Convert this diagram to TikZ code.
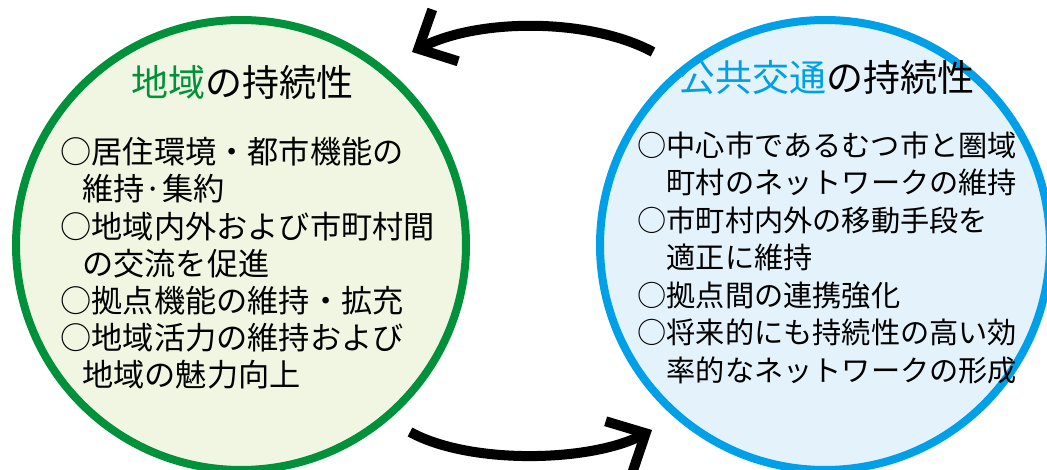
\documentclass[tikz,border=0pt]{standalone}
\usepackage{fontspec}
\setmainfont{Noto Sans CJK JP}
\usetikzlibrary{arrows.meta, positioning}

\definecolor{regiongreen}{RGB}{0,145,58}
\definecolor{regionfill}{RGB}{241,246,227}
\definecolor{transitblue}{RGB}{0,160,233}
\definecolor{transitfill}{RGB}{228,242,251}

\tikzset{
  ring/.style={line width=8pt},
  titletext/.style={font=\fontsize{37}{40}\selectfont},
  listtext/.style={anchor=west, align=left},
  regiontext/.style={listtext, font=\fontsize{31.2}{37.2}\selectfont},
  transittext/.style={listtext, font=\fontsize{29.2}{37.5}\selectfont},
  cyclearrow/.style={line width=10pt, -{Straight Barb[length=30pt, width=58pt, line cap=butt, line join=miter]}}
}

\begin{document}
\begin{tikzpicture}[x=1pt, y=-1pt]
\useasboundingbox (0,0) rectangle (1047,470);
\def\r{225}

\coordinate (L) at (241,245);
\coordinate (R) at (825,245);
\coordinate (topstart) at (653,52);
\coordinate (toptip) at (412,52);
\coordinate (botstart) at (410,432);
\coordinate (bottip) at (652,430);

\draw[ring, regiongreen, fill=regionfill] (L) circle (\r);
\draw[ring, transitblue, fill=transitfill] (R) circle (\r);

\node[titletext] (regiontitle) at (242,82) {\textcolor{regiongreen}{地域}の持続性};
\node[titletext] (transittitle) at (826,78) {\textcolor{transitblue}{公共交通}の持続性};

\node[regiontext] (regionlist) at (57,263.5) {%
○居住環境・都市機能の\\
\hspace*{0.7em}維持·集約\\
○地域内外および市町村間\\
\hspace*{0.7em}の交流を促進\\
○拠点機能の維持・拡充\\
○地域活力の維持および\\
\hspace*{0.7em}地域の魅力向上};

\node[transittext] (transitlist) at (634,257.5) {%
○中心市であるむつ市と圏域\\
\hspace*{1em}町村のネットワークの維持\\
○市町村内外の移動手段を\\
\hspace*{1em}適正に維持\\
○拠点間の連携強化\\
○将来的にも持続性の高い効\\
\hspace*{1em}率的なネットワークの形成};

\draw[cyclearrow] (topstart) .. controls (590,18) and (480,18) .. (toptip);
\draw[cyclearrow] (botstart) .. controls (470,465) and (590,462) .. (bottip);
\end{tikzpicture}
\end{document}
